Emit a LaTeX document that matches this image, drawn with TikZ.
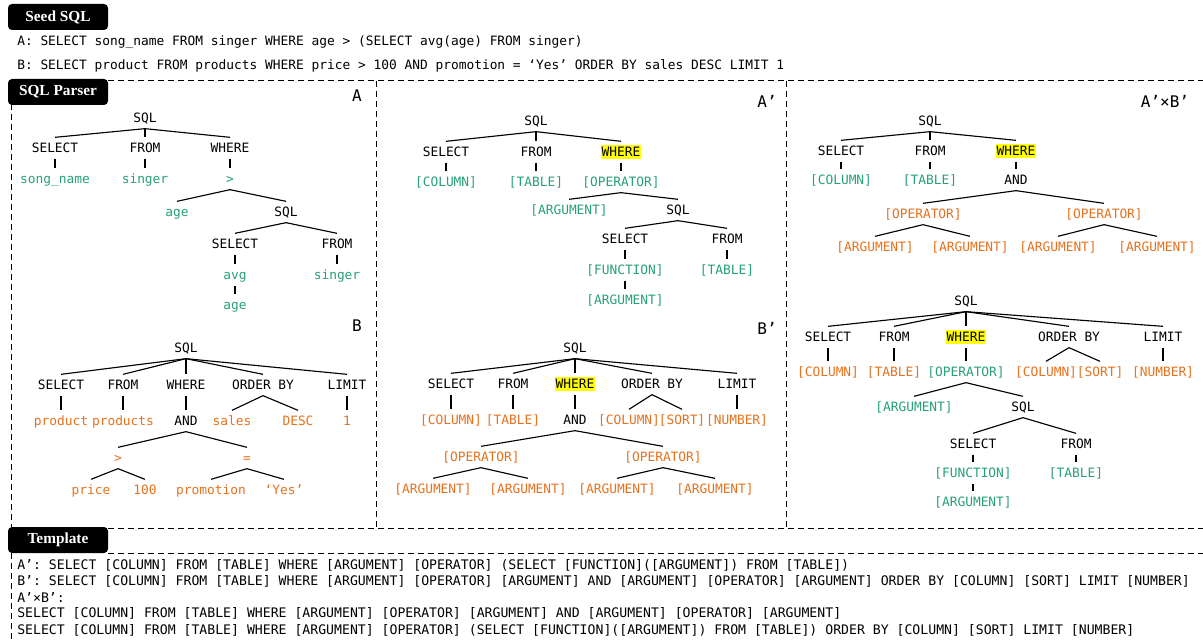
\documentclass[tikz,border=0pt]{standalone}
\usepackage{fontspec}
\setmainfont{Liberation Serif}
\setmonofont{DejaVu Sans Mono}
\usepackage{tikz}
\usetikzlibrary{calc, positioning}

\definecolor{valgreen}{RGB}{40,160,122}
\definecolor{valorange}{RGB}{230,114,30}
\definecolor{hlyellow}{RGB}{255,255,0}

\begin{document}
\begin{tikzpicture}[x=0.75pt, y=-0.75pt,
		hdr/.style={fill=black, rounded corners=3pt, text=white, inner sep=0pt,
			minimum width=75pt, minimum height=19.5pt, font=\fontsize{11.5}{12}\selectfont\bfseries},
		frame/.style={dash pattern=on 4.5pt off 3pt, line width=0.75pt},
		seedline/.style={anchor=west, inner sep=0pt, font=\ttfamily\fontsize{9.65}{11}\selectfont},
		tmplline/.style={anchor=west, inner sep=0pt, font=\ttfamily\fontsize{9.87}{11}\selectfont},
		tag/.style={inner sep=0pt, font=\ttfamily\fontsize{12}{14}\selectfont},
		kw/.style={inner sep=0pt, outer sep=4.5pt, text height=7pt, text depth=0pt,
			font=\ttfamily\fontsize{9.65}{11}\selectfont},
		gv/.style={kw, text=valgreen},
		ov/.style={kw, text=valorange},
		hl/.style={kw, fill=hlyellow, inner xsep=0.6pt, inner ysep=2pt, outer sep=2.5pt},
		edge/.style={line width=0.85pt}]
	\useasboundingbox (0,0) rectangle (1203,641);
	
	% headers
	\node[hdr] (seed) at (58,17) {Seed SQL};
	\node[hdr] (parser) at (58,92) {SQL Parser};
	\node[hdr] (template) at (58,540) {Template};
	
	% seed queries
	\node[seedline] (seedA) at (17,42) {A: SELECT song\_name FROM singer WHERE age > (SELECT avg(age) FROM singer)};
	\node[seedline] (seedB) at (17,66) {B: SELECT product FROM products WHERE price > 100 AND promotion = ‘Yes’ ORDER BY sales DESC LIMIT 1};
	
	% dashed frames
	\draw[frame] (108,81) -- (1203,81);
	\draw[frame] (11,104) -- (11,527);
	\draw[frame] (108,528) -- (1203,528);
	\draw[frame] (376,81) -- (376,528);
	\draw[frame] (786,81) -- (786,528);
	\draw[frame] (108,553) -- (1203,553);
	\draw[frame] (11,553) -- (11,641);
	
	\node[tag] (tagA) at (357,96) {A};
	\node[tag] (tagB) at (357,326) {B};
	\node[tag] (tagAp) at (767,101) {A’};
	\node[tag] (tagBp) at (767,328) {B’};
	\node[tag] (tagAB) at (1165,101) {A’×B’};
	
	% tree A
	\node[kw] (aSql) at (145,118) {SQL};
	\node[kw] (aSel) at (55,148) {SELECT};
	\node[kw] (aFrom) at (145,148) {FROM};
	\node[kw] (aWhere) at (230,148) {WHERE};
	\node[gv] (aCol) at (55,179) {song\_name};
	\node[gv] (aTab) at (145,179) {singer};
	\node[gv] (aOp) at (230,179) {>};
	\node[gv] (aArg) at (177,212) {age};
	\node[kw] (aSub) at (286,212) {SQL};
	\node[kw] (aSubSel) at (235,244) {SELECT};
	\node[kw] (aSubFrom) at (337,244) {FROM};
	\node[gv] (aFunc) at (235,275) {avg};
	\node[gv] (aSubTab) at (337,275) {singer};
	\node[gv] (aFArg) at (235,305) {age};
	
	% tree B
	\node[kw] (bSql) at (186,348) {SQL};
	\node[kw] (bSel) at (61,385) {SELECT};
	\node[kw] (bFrom) at (123,385) {FROM};
	\node[kw] (bWhere) at (186,385) {WHERE};
	\node[kw] (bOrder) at (263,385) {ORDER BY};
	\node[kw] (bLimit) at (347,385) {LIMIT};
	\node[ov] (bCol) at (61,421) {product};
	\node[ov] (bTab) at (123,421) {products};
	\node[kw] (bAnd) at (186,421) {AND};
	\node[ov] (bKey) at (232,421) {sales};
	\node[ov] (bDir) at (298,421) {DESC};
	\node[ov] (bNum) at (347,421) {1};
	\node[ov] (bGt) at (118,458) {>};
	\node[ov] (bEq) at (247,458) {=};
	\node[ov] (bArg1) at (91,490) {price};
	\node[ov] (bArg2) at (145,490) {100};
	\node[ov] (bArg3) at (211,490) {promotion};
	\node[ov] (bArg4) at (284,490) {‘Yes’};
	
	% tree A'
	\node[kw] (apSql) at (536,121) {SQL};
	\node[kw] (apSel) at (446,152) {SELECT};
	\node[kw] (apFrom) at (536,152) {FROM};
	\node[hl] (apWhere) at (621,152) {WHERE};
	\node[gv] (apCol) at (446,182) {[COLUMN]};
	\node[gv] (apTab) at (536,182) {[TABLE]};
	\node[gv] (apOp) at (621,182) {[OPERATOR]};
	\node[gv] (apArg) at (569,210) {[ARGUMENT]};
	\node[kw] (apSub) at (678,210) {SQL};
	\node[kw] (apSubSel) at (625,239) {SELECT};
	\node[kw] (apSubFrom) at (727,239) {FROM};
	\node[gv] (apFunc) at (625,270) {[FUNCTION]};
	\node[gv] (apSubTab) at (727,270) {[TABLE]};
	\node[gv] (apFArg) at (625,300) {[ARGUMENT]};
	
	% tree B'
	\node[kw] (bpSql) at (575,348) {SQL};
	\node[kw] (bpSel) at (451,384) {SELECT};
	\node[kw] (bpFrom) at (513,384) {FROM};
	\node[hl] (bpWhere) at (575,384) {WHERE};
	\node[kw] (bpOrder) at (652,384) {ORDER BY};
	\node[kw] (bpLimit) at (737,384) {LIMIT};
	\node[ov] (bpCol) at (451,420) {[COLUMN]};
	\node[ov] (bpTab) at (513,420) {[TABLE]};
	\node[kw] (bpAnd) at (575,420) {AND};
	\node[ov] (bpKey) at (629,420) {[COLUMN]};
	\node[ov] (bpDir) at (682,420) {[SORT]};
	\node[ov] (bpNum) at (737,420) {[NUMBER]};
	\node[ov] (bpOp1) at (481,457) {[OPERATOR]};
	\node[ov] (bpOp2) at (663,457) {[OPERATOR]};
	\node[ov] (bpArg1) at (433,489) {[ARGUMENT]};
	\node[ov] (bpArg2) at (528,489) {[ARGUMENT]};
	\node[ov] (bpArg3) at (617,489) {[ARGUMENT]};
	\node[ov] (bpArg4) at (715,489) {[ARGUMENT]};
	
	% tree A'xB', first
	\node[kw] (xSql) at (930,121) {SQL};
	\node[kw] (xSel) at (841,151) {SELECT};
	\node[kw] (xFrom) at (930,151) {FROM};
	\node[hl] (xWhere) at (1016,151) {WHERE};
	\node[gv] (xCol) at (841,180) {[COLUMN]};
	\node[gv] (xTab) at (930,180) {[TABLE]};
	\node[kw] (xAnd) at (1016,180) {AND};
	\node[ov] (xOp1) at (923,214) {[OPERATOR]};
	\node[ov] (xOp2) at (1104,214) {[OPERATOR]};
	\node[ov] (xArg1) at (875,247) {[ARGUMENT]};
	\node[ov] (xArg2) at (970,247) {[ARGUMENT]};
	\node[ov] (xArg3) at (1058,247) {[ARGUMENT]};
	\node[ov] (xArg4) at (1157,247) {[ARGUMENT]};
	
	% tree A'xB', second
	\node[kw] (ySql) at (966,301) {SQL};
	\node[kw] (ySel) at (828,337) {SELECT};
	\node[kw] (yFrom) at (894,337) {FROM};
	\node[hl] (yWhere) at (966,337) {WHERE};
	\node[kw] (yOrder) at (1069,337) {ORDER BY};
	\node[kw] (yLimit) at (1163,337) {LIMIT};
	\node[ov] (yCol) at (828,372) {[COLUMN]};
	\node[ov] (yTab) at (894,372) {[TABLE]};
	\node[gv] (yOp) at (966,372) {[OPERATOR]};
	\node[ov] (yKey) at (1046,372) {[COLUMN]};
	\node[ov] (yDir) at (1100,372) {[SORT]};
	\node[ov] (yNum) at (1163,372) {[NUMBER]};
	\node[gv] (yArg) at (914,407) {[ARGUMENT]};
	\node[kw] (ySub) at (1023,407) {SQL};
	\node[kw] (ySubSel) at (973,444) {SELECT};
	\node[kw] (ySubFrom) at (1076,444) {FROM};
	\node[gv] (yFunc) at (973,473) {[FUNCTION]};
	\node[gv] (ySubTab) at (1076,473) {[TABLE]};
	\node[gv] (yFArg) at (973,502) {[ARGUMENT]};
	
	% tree edges
	\foreach \p/\c in {aSql/aSel, aSql/aFrom, aSql/aWhere, aSel/aCol, aFrom/aTab, aWhere/aOp,
			aOp/aArg, aOp/aSub, aSub/aSubSel, aSub/aSubFrom, aSubSel/aFunc, aFunc/aFArg, aSubFrom/aSubTab,
			bSql/bSel, bSql/bFrom, bSql/bWhere, bSql/bOrder, bSql/bLimit, bSel/bCol, bFrom/bTab,
			bWhere/bAnd, bOrder/bKey, bOrder/bDir, bLimit/bNum, bAnd/bGt, bAnd/bEq,
			bGt/bArg1, bGt/bArg2, bEq/bArg3, bEq/bArg4,
			apSql/apSel, apSql/apFrom, apSql/apWhere, apSel/apCol, apFrom/apTab, apWhere/apOp,
			apOp/apArg, apOp/apSub, apSub/apSubSel, apSub/apSubFrom, apSubSel/apFunc, apFunc/apFArg,
			apSubFrom/apSubTab,
			bpSql/bpSel, bpSql/bpFrom, bpSql/bpWhere, bpSql/bpOrder, bpSql/bpLimit, bpSel/bpCol,
			bpFrom/bpTab, bpWhere/bpAnd, bpOrder/bpKey, bpOrder/bpDir, bpLimit/bpNum,
			bpAnd/bpOp1, bpAnd/bpOp2, bpOp1/bpArg1, bpOp1/bpArg2, bpOp2/bpArg3, bpOp2/bpArg4,
			xSql/xSel, xSql/xFrom, xSql/xWhere, xSel/xCol, xFrom/xTab, xWhere/xAnd,
			xAnd/xOp1, xAnd/xOp2, xOp1/xArg1, xOp1/xArg2, xOp2/xArg3, xOp2/xArg4,
			ySql/ySel, ySql/yFrom, ySql/yWhere, ySql/yOrder, ySql/yLimit, ySel/yCol, yFrom/yTab,
			yWhere/yOp, yOrder/yKey, yOrder/yDir, yLimit/yNum, yOp/yArg, yOp/ySub,
			ySub/ySubSel, ySub/ySubFrom, ySubSel/yFunc, yFunc/yFArg, ySubFrom/ySubTab}
		\draw[edge] (\p.south) -- (\c.north);
	
	% templates
	\node[tmplline] (tmplA) at (17,565) {A’: SELECT [COLUMN] FROM [TABLE] WHERE [ARGUMENT] [OPERATOR] (SELECT [FUNCTION]([ARGUMENT]) FROM [TABLE])};
	\node[tmplline] (tmplB) at (17,581) {B’: SELECT [COLUMN] FROM [TABLE] WHERE [ARGUMENT] [OPERATOR] [ARGUMENT] AND [ARGUMENT] [OPERATOR] [ARGUMENT] ORDER BY [COLUMN] [SORT] LIMIT [NUMBER]};
	\node[tmplline] (tmplAB) at (17,597) {A’×B’:};
	\node[tmplline] (tmplAB1) at (17,613) {SELECT [COLUMN] FROM [TABLE] WHERE [ARGUMENT] [OPERATOR] [ARGUMENT] AND [ARGUMENT] [OPERATOR] [ARGUMENT]};
	\node[tmplline] (tmplAB2) at (17,630) {SELECT [COLUMN] FROM [TABLE] WHERE [ARGUMENT] [OPERATOR] (SELECT [FUNCTION]([ARGUMENT]) FROM [TABLE]) ORDER BY [COLUMN] [SORT] LIMIT [NUMBER]};
\end{tikzpicture}
\end{document}
